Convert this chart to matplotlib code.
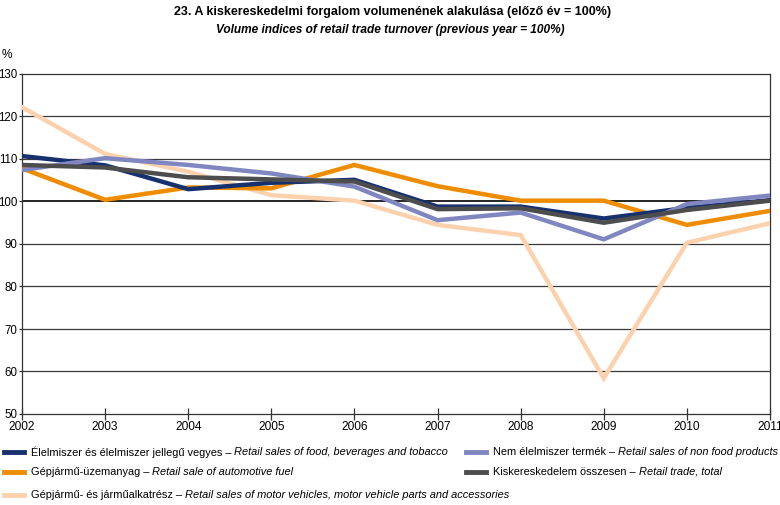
import matplotlib
matplotlib.use('Agg')
import matplotlib.pyplot as plt
from matplotlib.lines import Line2D

plt.rcParams['font.family'] = ['Liberation Sans', 'DejaVu Sans']

# ── Data ─────────────────────────────────────────────────────────────────────
years = [2002, 2003, 2004, 2005, 2006, 2007, 2008, 2009, 2010, 2011]

food     = [110.7, 108.5, 102.9, 104.4, 105.1, 98.8, 98.8, 96.0, 98.5, 100.3]
nonfood  = [107.4, 110.2, 108.6, 106.6, 103.5, 95.6, 97.4, 91.1, 99.4, 101.4]
fuel     = [107.8, 100.4, 103.3, 103.1, 108.6, 103.6, 100.2, 100.2, 94.5, 97.8]
total    = [108.6, 108.0, 105.7, 105.2, 104.7, 98.2, 98.4, 95.0, 98.0, 100.2]
vehicles = [122.2, 111.2, 107.0, 101.5, 100.2, 94.5, 92.1, 58.4, 90.3, 94.9]

title_hu = '23. A kiskereskedelmi forgalom volumenének alakulása (előző év = 100%)'
title_en = 'Volume indices of retail trade turnover (previous year = 100%)'

series = [
    # (values, colour, hungarian, english)
    (vehicles, '#fcd2ae', 'Gépjármű- és járműalkatrész – ',
     'Retail sales of motor vehicles, motor vehicle parts and accessories'),
    (fuel, '#f08c00', 'Gépjármű-üzemanyag – ', 'Retail sale of automotive fuel'),
    (food, '#17306e', 'Élelmiszer és élelmiszer jellegű vegyes – ',
     'Retail sales of food, beverages and tobacco'),
    (nonfood, '#8087c0', 'Nem élelmiszer termék – ', 'Retail sales of non food products'),
    (total, '#4d4d4d', 'Kiskereskedelem összesen – ', 'Retail trade, total'),
]

# ── Plot ─────────────────────────────────────────────────────────────────────
fig = plt.figure(figsize=(7.8, 5.05), dpi=100)
ax = fig.add_axes([22 / 780, 91 / 505, 748 / 780, 340 / 505])

for yv in [60, 70, 80, 90, 110, 120]:
    ax.axhline(yv, color='#3a3a3a', lw=0.9, zorder=1)
ax.axhline(100, color='black', lw=1.2, zorder=1)

for vals, col, _, _ in series:
    ax.plot(years, vals, color=col, lw=3.2, solid_joinstyle='miter', zorder=3)

ax.set_xlim(2002, 2011)
ax.set_ylim(50, 130)
ax.set_yticks(range(50, 131, 10))
ax.set_xticks(years)
ax.tick_params(axis='x', direction='inout', length=8, width=0.9, color='#333333',
               labelsize=8.6, pad=1)
ax.tick_params(axis='y', length=2, width=0.9, color='#333333', labelsize=8.3, pad=1.2)
for s in ax.spines.values():
    s.set_color('#333333')
    s.set_linewidth(0.9)

fig.text(2 / 780, 1 - 55 / 505, '%', fontsize=8.6, va='center', ha='left')
fig.text(393 / 780, 1 - 12 / 505, title_hu, fontsize=9.0, fontweight='bold',
         ha='center', va='center')
fig.text(390 / 780, 1 - 30 / 505, title_en, fontsize=8.6, fontweight='bold',
         style='italic', ha='center', va='center')

# legend, laid out by hand to match the two-column arrangement
legend_pos = {
    2: (4, 452), 3: (466, 452),
    1: (4, 472), 4: (466, 472),
    0: (4, 495),
}
for idx, (px, py) in legend_pos.items():
    vals, col, hu, en = series[idx]
    x0 = px / 780
    y0 = 1 - py / 505
    fig.add_artist(Line2D([x0, x0 + 20 / 780], [y0, y0], color=col, lw=3.5,
                          transform=fig.transFigure))
    t = fig.text(x0 + 27 / 780, y0, hu, fontsize=7.9, va='center', ha='left')
    fig.canvas.draw()
    bb = t.get_window_extent()
    fig.text(bb.x1 / fig.bbox.width, y0, en, fontsize=7.9, style='italic',
             va='center', ha='left')

fig.savefig('out.png', dpi=100)
